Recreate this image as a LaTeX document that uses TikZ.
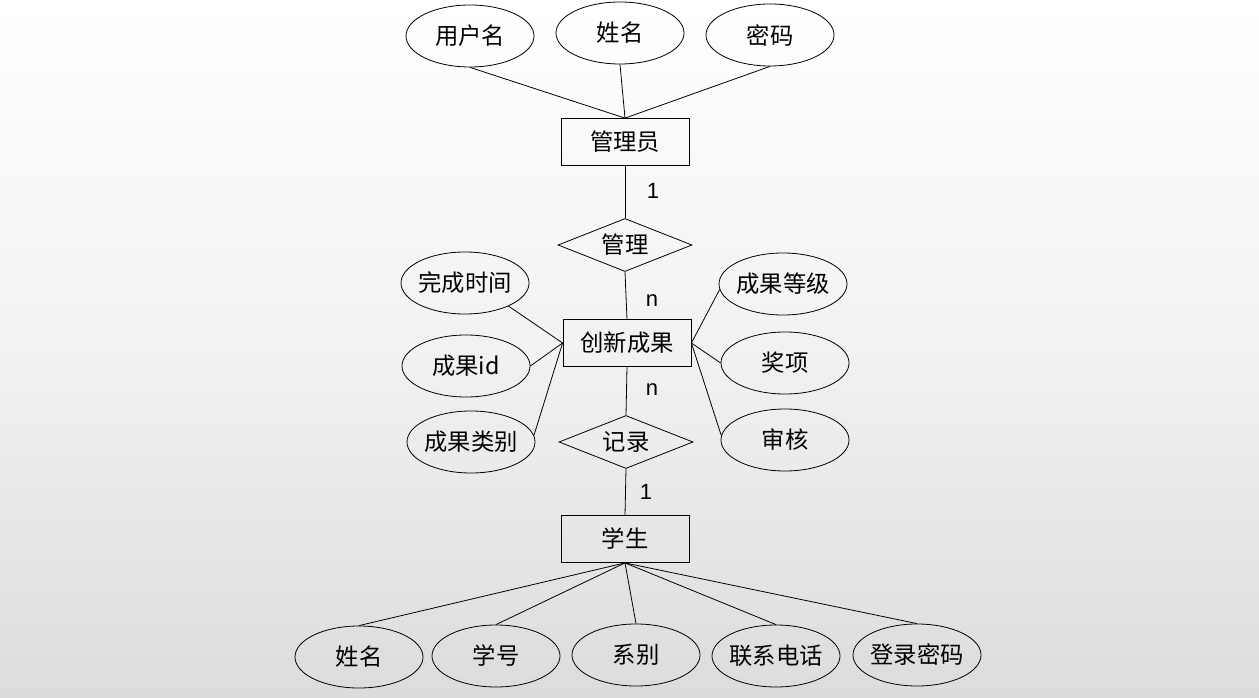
\documentclass[tikz,border=0pt]{standalone}
\usepackage{fontspec}
\setmainfont{Noto Sans CJK SC}
\newfontfamily\latinsans{Liberation Sans}
\usetikzlibrary{shapes.geometric}
\newcommand{\fixw}[1]{\makebox[40pt][c]{#1}}
\begin{document}
\begin{tikzpicture}[x=0.75pt,y=-0.75pt,
  every node/.style={font=\fontsize{17.5pt}{20pt}\selectfont, inner sep=0pt},
  attr/.style={ellipse, draw, line width=0.6pt, minimum width=96pt, minimum height=46.5pt},
  ent/.style={rectangle, draw, line width=0.6pt, minimum width=96pt, minimum height=35.25pt},
  rel/.style={diamond, draw, line width=0.6pt, aspect=2.5, minimum width=100.5pt, minimum height=39.75pt},
  card/.style={font=\latinsans\fontsize{16.5pt}{18pt}\selectfont},
  conn/.style={line width=0.6pt}]
\shade[top color=white, bottom color={rgb,255:red,220;green,220;blue,220}, middle color={rgb,255:red,242;green,242;blue,242}] (0,0) rectangle (1259,698);
\useasboundingbox (0,0) rectangle (1259,698);
% admin
\node[attr] (a1) at (470,36) {\fixw{用户名}};
\node[attr] (a2) at (620,33) {\fixw{姓名}};
\node[attr] (a3) at (770,35) {\fixw{密码}};
\node[ent] (mgr) at (625,142) {管理员};
\node[rel] (manage) at (625,245) {管理};
\node[ent] (inno) at (627,343) {创新成果};
\node[rel] (record) at (626,442) {记录};
\node[ent] (stu) at (625,539) {学生};
% innovation attributes
\node[attr] (l1) at (465,283) {\fixw{完成时间}};
\node[attr] (l2) at (466,366) {\fixw{成果id}};
\node[attr] (l3) at (471,442) {\fixw{成果类别}};
\node[attr] (r1) at (783,284) {\fixw{成果等级}};
\node[attr] (r2) at (785,363) {\fixw{奖项}};
\node[attr] (r3) at (785,440) {\fixw{审核}};
% student attributes
\node[attr] (s1) at (359,657) {\fixw{姓名}};
\node[attr] (s2) at (496,656) {\fixw{学号}};
\node[attr] (s3) at (636,655) {\fixw{系别}};
\node[attr] (s4) at (776,656) {\fixw{联系电话}};
\node[attr] (s5) at (917,655) {\fixw{登录密码}};
% cardinalities
\node[card] (c1) at (653,191) {1};
\node[card] (c2) at (652,301) {n};
\node[card] (c3) at (652,390) {n};
\node[card] (c4) at (646,492) {1};
% connectors
\draw[conn] (a1.south) -- (mgr.north);
\draw[conn] (a2.south) -- (mgr.north);
\draw[conn] (a3.south) -- (mgr.north);
\draw[conn] (mgr.south) -- (manage.north);
\draw[conn] (manage.south) -- (inno.north);
\draw[conn] (inno.south) -- (record.north);
\draw[conn] (record.south) -- (stu.north);
\draw[conn] (l1.-28) -- (inno.west);
\draw[conn] (l2.east) -- (inno.west);
\draw[conn] (l3.6) -- (inno.west);
\draw[conn] (r1.185) -- (inno.east);
\draw[conn] (r2.west) -- (inno.east);
\draw[conn] (r3.176) -- (inno.east);
\draw[conn] (stu.south) -- (s1.north);
\draw[conn] (stu.south) -- (s2.north);
\draw[conn] (stu.south) -- (s3.north);
\draw[conn] (stu.south) -- (s4.north);
\draw[conn] (stu.south) -- (s5.north);
\end{tikzpicture}
\end{document}
